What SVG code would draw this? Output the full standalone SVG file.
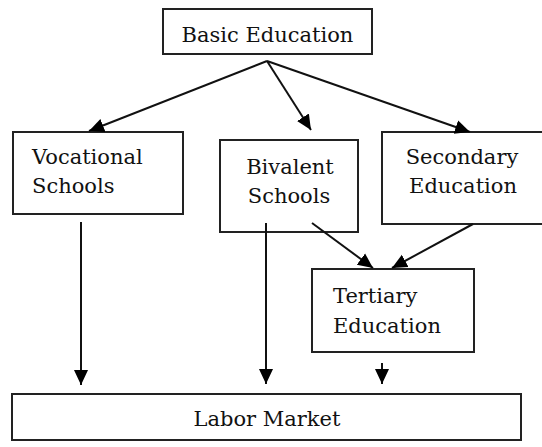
<svg xmlns="http://www.w3.org/2000/svg" width="542" height="447" viewBox="0 0 542 447">
<style>
.box{fill:#fff;stroke:#222;stroke-width:2}
text{font-family:'DejaVu Serif','Liberation Serif',serif;font-size:21px;fill:#111}
.c{text-anchor:middle}
.ln{stroke:#111;stroke-width:2;fill:none}
</style>
<defs>
<marker id="ah" markerUnits="userSpaceOnUse" markerWidth="16" markerHeight="16" viewBox="0 0 16 16" refX="15" refY="8" orient="auto">
<path d="M0,1 L15,8 L0,15 Z" fill="#000"/>
</marker>
</defs>
<rect width="542" height="447" fill="#fff"/>
<g id="basic">
<rect class="box" x="163" y="9" width="209" height="45"/>
<text class="c" x="267.5" y="42">Basic Education</text>
</g>
<g id="vocational">
<rect class="box" x="13" y="132" width="170" height="82"/>
<text x="32" y="164">Vocational</text>
<text x="32" y="193">Schools</text>
</g>
<g id="bivalent">
<rect class="box" x="220" y="140" width="138" height="92"/>
<text class="c" x="290" y="174">Bivalent</text>
<text class="c" x="289" y="203">Schools</text>
</g>
<g id="secondary">
<rect class="box" x="382" y="132" width="164" height="92"/>
<text class="c" x="462" y="164">Secondary</text>
<text class="c" x="463" y="193">Education</text>
</g>
<g id="tertiary">
<rect class="box" x="312" y="269" width="162" height="83"/>
<text x="333" y="303">Tertiary</text>
<text x="333" y="333">Education</text>
</g>
<g id="labor">
<rect class="box" x="12" y="394" width="509" height="46"/>
<text class="c" x="267" y="426">Labor Market</text>
</g>
<g id="connectors">
<line class="ln" x1="267" y1="61" x2="89" y2="131" marker-end="url(#ah)"/>
<line class="ln" x1="267" y1="61" x2="311" y2="130" marker-end="url(#ah)"/>
<line class="ln" x1="267" y1="61" x2="470" y2="132" marker-end="url(#ah)"/>
<line class="ln" x1="312" y1="223" x2="373" y2="268" marker-end="url(#ah)"/>
<line class="ln" x1="473" y1="224" x2="392" y2="268" marker-end="url(#ah)"/>
<line class="ln" x1="81" y1="222" x2="81" y2="385" marker-end="url(#ah)"/>
<line class="ln" x1="266" y1="223" x2="266" y2="384" marker-end="url(#ah)"/>
<line class="ln" x1="382" y1="363" x2="382" y2="384" marker-end="url(#ah)"/>
</g>
</svg>
